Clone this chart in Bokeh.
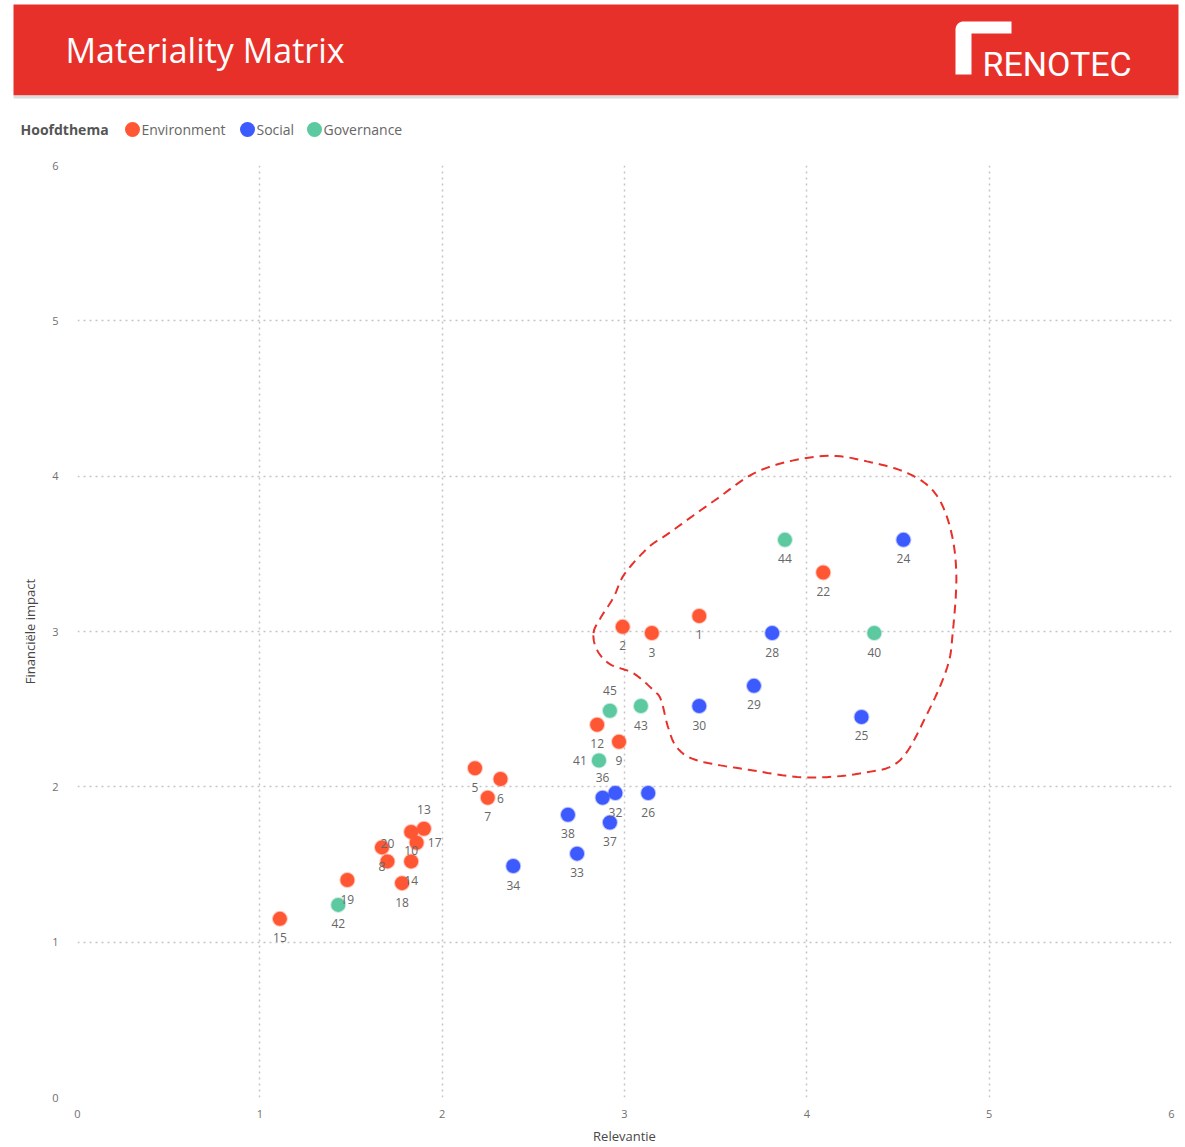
import numpy as np
from bokeh.plotting import figure
from bokeh.layouts import column, row
from bokeh.models import Range1d, FixedTicker, ColumnDataSource
from bokeh.core.properties import value
from bokeh.embed import file_html
from bokeh.resources import INLINE

# ---------------- data ----------------
themes = ["Environment", "Social", "Governance"]
theme_colors = ["#FF5733", "#3D5AFE", "#5CC9A0"]

env_ids = ["1", "2", "3", "5", "6", "7", "8", "9", "10", "12", "13", "14", "15", "17", "18", "19", "20", "22"]
env_x = [3.41, 2.99, 3.15, 2.18, 2.32, 2.25, 1.67, 2.97, 1.83, 2.85, 1.90, 1.83, 1.11, 1.86, 1.78, 1.48, 1.70, 4.09]
env_y = [3.10, 3.03, 2.99, 2.12, 2.05, 1.93, 1.61, 2.29, 1.71, 2.40, 1.73, 1.52, 1.15, 1.64, 1.38, 1.40, 1.52, 3.38]

soc_ids = ["24", "25", "26", "28", "29", "30", "32", "33", "34", "36", "37", "38"]
soc_x = [4.53, 4.30, 3.13, 3.81, 3.71, 3.41, 2.95, 2.74, 2.39, 2.88, 2.92, 2.69]
soc_y = [3.59, 2.45, 1.96, 2.99, 2.65, 2.52, 1.96, 1.57, 1.49, 1.93, 1.77, 1.82]

gov_ids = ["40", "41", "42", "43", "44", "45"]
gov_x = [4.37, 2.86, 1.43, 3.09, 3.88, 2.92]
gov_y = [2.99, 2.17, 1.24, 2.52, 3.59, 2.49]

axis_ticks = [0, 1, 2, 3, 4, 5, 6]

# highlighted region (annotation outline, data coordinates)
region_x = [2.83, 2.87, 2.94, 3.00, 3.13, 3.24, 3.49, 3.75, 4.09, 4.35, 4.57, 4.71, 4.79, 4.82,
            4.80, 4.77, 4.66, 4.51, 4.31, 4.00, 3.68, 3.40, 3.29, 3.24, 3.20, 3.16, 3.05, 2.92, 2.85]
region_y = [2.99, 3.09, 3.22, 3.37, 3.54, 3.63, 3.84, 4.04, 4.13, 4.09, 4.01, 3.88, 3.65, 3.36,
            2.99, 2.77, 2.47, 2.17, 2.09, 2.06, 2.11, 2.17, 2.25, 2.38, 2.56, 2.62, 2.73, 2.79, 2.88]

# label placement (screen px offsets) for labels not placed below their point
label_pos = {"13": (0, -19), "17": (18, 0), "20": (0, -18), "41": (-19, 0), "36": (0, -20), "45": (0, -20)}

W = 1180
HH = 150
FONT = "Open Sans"

# ---------------- header ----------------
hdr = figure(width=W, height=HH, x_range=Range1d(0, W), y_range=Range1d(HH, 0),
             output_backend="svg", toolbar_location=None, min_border=0,
             x_axis_location=None, y_axis_location=None)
hdr.grid.visible = False
hdr.outline_line_color = None

hdr.quad(left=[13], right=[1178], top=[4], bottom=[95], fill_color="#E8302A", line_color=None)
hdr.quad(left=[13], right=[1178], top=[95], bottom=[98], fill_color="#DCDCDC", line_color=None)
hdr.text(x=[65], y=[49], text=["Materiality Matrix"], text_baseline="middle", text_align="left",
         text_font=value(FONT), text_font_size="34px", text_color="white")

# logo bracket
t = np.linspace(0, np.pi / 2, 10)
arc_x = list(963 - 8 * np.cos(t))
arc_y = list(29 - 8 * np.sin(t))
logo_x = [955] + arc_x + [1011, 1011, 971, 971]
logo_y = [74] + arc_y + [21, 33, 33, 74]
hdr.patch(logo_x, logo_y, fill_color="white", line_color=None)
hdr.text(x=[982], y=[63], text=["RENOTEC"], text_baseline="middle", text_align="left",
         text_font=value("Roboto"), text_font_size="34px", text_color="white")

# legend
hdr.text(x=[20], y=[129], text=["Hoofdthema"], text_baseline="middle", text_align="left",
         text_font=value(FONT), text_font_size="14px", text_font_style="bold", text_color="#555555")
leg_x = [132, 247, 314]
hdr.scatter(x=leg_x, y=[129] * 3, size=15, color=theme_colors, line_color=None)
hdr.text(x=[x + 9 for x in leg_x], y=[129] * 3, text=themes, text_baseline="middle", text_align="left",
         text_font=value(FONT), text_font_size="14px", text_color="#666666")

# ---------------- main plot ----------------
p = figure(width=W, height=997, x_range=Range1d(0, 6), y_range=Range1d(0, 6),
           output_backend="svg", toolbar_location=None,
           min_border_left=77, min_border_right=9, min_border_top=15, min_border_bottom=50)
p.outline_line_color = None
p.background_fill_color = "white"

for ax in (p.xaxis[0], p.yaxis[0]):
    ax.ticker = FixedTicker(ticks=axis_ticks)
    ax.axis_line_color = None
    ax.major_tick_line_color = None
    ax.minor_tick_line_color = None
    ax.major_label_text_color = "#707070"
    ax.major_label_text_font = FONT
    ax.major_label_text_font_size = "11px"
    ax.axis_label_text_font = FONT
    ax.axis_label_text_font_size = "13px"
    ax.axis_label_text_font_style = "normal"
    ax.axis_label_text_color = "#474747"

p.xaxis.axis_label = "Relevantie"
p.xaxis.major_label_standoff = 6
p.xaxis.axis_label_standoff = 6
p.yaxis.axis_label = "Financiële impact"
p.yaxis.major_label_standoff = 13
p.yaxis.axis_label_standoff = 10

p.grid.grid_line_color = "#C4C4C4"
p.grid.grid_line_dash = "2 4"
p.grid.grid_line_width = 1.5

# region outline (smooth closed Catmull-Rom curve)
cx = np.array(region_x)
cy = np.array(region_y)
n = len(cx)
sx, sy = [], []
for i in range(n):
    p0 = np.array([cx[(i - 1) % n], cy[(i - 1) % n]])
    p1 = np.array([cx[i], cy[i]])
    p2 = np.array([cx[(i + 1) % n], cy[(i + 1) % n]])
    p3 = np.array([cx[(i + 2) % n], cy[(i + 2) % n]])
    for tt in np.linspace(0, 1, 12, endpoint=False):
        pt = 0.5 * ((2 * p1) + (-p0 + p2) * tt + (2 * p0 - 5 * p1 + 4 * p2 - p3) * tt ** 2
                    + (-p0 + 3 * p1 - 3 * p2 + p3) * tt ** 3)
        sx.append(pt[0])
        sy.append(pt[1])
sx.append(sx[0])
sy.append(sy[0])
p.line(sx, sy, line_color="#E8302A", line_width=2, line_dash="9 6")

groups = [(env_ids, env_x, env_y), (soc_ids, soc_x, soc_y), (gov_ids, gov_x, gov_y)]
for (ids, xs, ys), col in zip(groups, theme_colors):
    p.scatter(xs, ys, size=14, fill_color=col, line_color=col, line_alpha=0.35, line_width=2)

all_ids, all_x, all_y = [], [], []
for ids, xs, ys in groups:
    all_ids += ids
    all_x += xs
    all_y += ys
xo = [label_pos.get(i, (0, 19))[0] for i in all_ids]
yo = [label_pos.get(i, (0, 19))[1] for i in all_ids]
src = ColumnDataSource(dict(x=all_x, y=all_y, t=all_ids, xo=xo, yo=yo))
p.text(x="x", y="y", text="t", x_offset="xo", y_offset="yo", source=src,
       text_align="center", text_baseline="middle", text_font=value(FONT),
       text_font_size="12px", text_color="#666666")

layout = column(row(hdr), row(p), spacing=0)
open("out.html", "w").write(file_html(layout, INLINE))
